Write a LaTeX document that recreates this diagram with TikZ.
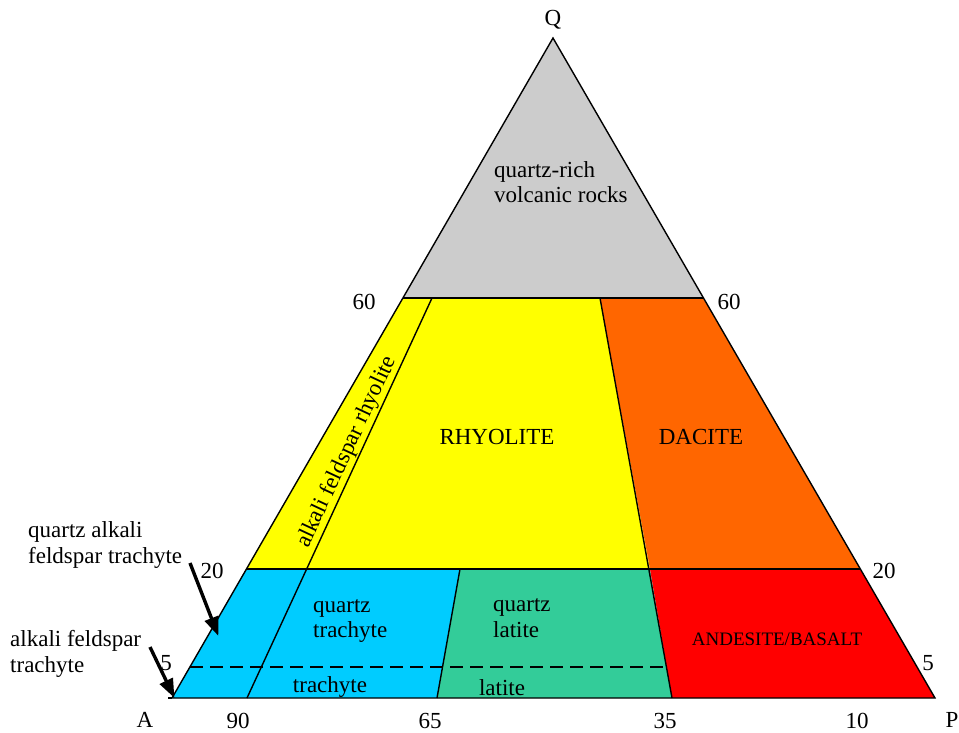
\documentclass[tikz,border=0pt]{standalone}
\usepackage{fontspec}
\setmainfont{Liberation Serif}
\usetikzlibrary{arrows.meta}
\definecolor{cgray}{HTML}{CCCCCC}
\definecolor{cyellow}{HTML}{FFFF00}
\definecolor{corange}{HTML}{FF6600}
\definecolor{ccyan}{HTML}{00CCFF}
\definecolor{cgreen}{HTML}{33CC99}
\definecolor{cred}{HTML}{FF0000}
\tikzset{
  edge/.style={draw=black, line width=1.4pt, line join=miter},
  lbl/.style={inner sep=0pt, font=\fontsize{23}{25.5}\selectfont},
  lbll/.style={lbl, align=left, anchor=west},
  pointer/.style={line width=3.4pt, -{Triangle[length=19pt,width=14pt]}, shorten >=-1pt}
}
\begin{document}
\begin{tikzpicture}[x=1pt,y=-1pt]
\useasboundingbox (0,0) rectangle (959,732);
% corner and boundary points
\coordinate (A) at (172,698);
\coordinate (A0) at (168,698);
\coordinate (P) at (935,698);
\coordinate (Q) at (553,38);
\coordinate (L60) at (403,298);
\coordinate (R60) at (703,298);
\coordinate (L20) at (246,569);
\coordinate (R20) at (860,569);
\coordinate (L5) at (190,667);
\coordinate (a1) at (432,298);
\coordinate (a3) at (247,698);
\coordinate (d1) at (600,298);
\coordinate (d2) at (650,569);
\coordinate (d5) at (668,667);
\coordinate (d3) at (672,698);
\coordinate (q1) at (460,569);
\coordinate (q2) at (437,698);
% fills
\fill[cgray] (Q) -- (L60) -- (R60) -- cycle;
\fill[cyellow] (L60) -- (d1) -- (d2) -- (L20) -- cycle;
\fill[corange] (d1) -- (R60) -- (R20) -- (d2) -- cycle;
\fill[ccyan] (L20) -- (q1) -- (q2) -- (A) -- cycle;
\fill[cgreen] (q1) -- (d2) -- (d3) -- (q2) -- cycle;
\fill[cred] (d2) -- (R20) -- (P) -- (d3) -- cycle;
% lines
\draw[edge] (L60) -- (R60);
\draw[edge] (L20) -- (R20);
\draw[edge] (a1) -- (a3);
\draw[edge] (d1) -- (d3);
\draw[edge] (q1) -- (q2);
\draw[line width=1.3pt, dash pattern=on 13pt off 7pt] (L5) -- (d5);
\draw[edge] (A) -- (P) -- (Q) -- cycle;
\draw[edge] (A0) -- (A);
% corner labels
\node[lbl] (tQ) at (553,20) {Q};
\node[lbl] (tA) at (145,720) {A};
\node[lbl] (tP) at (952,720) {P};
% scale labels
\node[lbl] (t60l) at (364,302) {60};
\node[lbl] (t60r) at (729,302) {60};
\node[lbl] (t20l) at (212,571) {20};
\node[lbl] (t20r) at (884,571) {20};
\node[lbl] (t5l) at (166,663) {5};
\node[lbl] (t5r) at (928,663) {5};
\node[lbl] (t90) at (238,721) {90};
\node[lbl] (t65) at (430,721) {65};
\node[lbl] (t35) at (665,721) {35};
\node[lbl] (t10) at (857,721) {10};
% field labels
\node[lbll] (tqr) at (494,182) {quartz-rich\\volcanic rocks};
\node[lbl] (trh) at (497,437) {RHYOLITE};
\node[lbl] (tda) at (701,437) {DACITE};
\node[lbl, rotate=65] (tafr) at (347,452) {alkali feldspar rhyolite};
\node[lbll] (tqt) at (313,621) {quartz\\trachyte};
\node[lbl] (ttr) at (330,687) {trachyte};
\node[lbll] (tql) at (493,618) {quartz\\latite};
\node[lbl] (tla) at (502,688) {latite};
\node[lbl, font=\fontsize{19}{22}\selectfont] (tab) at (777,639) {ANDESITE/BASALT};
% outside labels with arrows
\node[lbll] (tqaft) at (28,545) {quartz alkali\\feldspar trachyte};
\node[lbll] (taft) at (10,654) {alkali feldspar\\trachyte};
\coordinate (s1) at (190,563);
\coordinate (e1) at (218,635);
\coordinate (s2) at (150,647);
\coordinate (e2) at (174,697);
\draw[pointer] (s1) -- (e1);
\draw[pointer] (s2) -- (e2);
\end{tikzpicture}
\end{document}
